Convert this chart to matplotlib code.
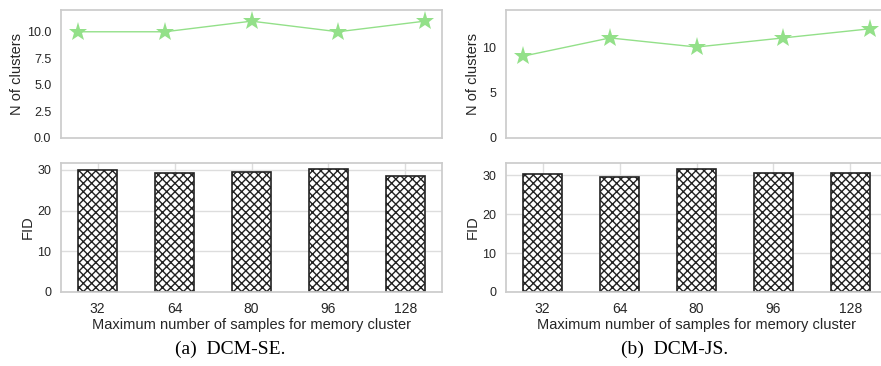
import numpy as np
import matplotlib
matplotlib.use('Agg')
import matplotlib.pyplot as plt

# memory cluster size sweep
sizes = ['32', '64', '80', '96', '128']

# DCM-SE
clusters_se = [10, 10, 11, 10, 11]
fid_se = [30.1, 29.2, 29.6, 30.2, 28.6]

# DCM-JS
clusters_js = [9, 11, 10, 11, 12]
fid_js = [30.3, 29.6, 31.6, 30.7, 30.7]

plt.rcParams['font.family'] = ['Liberation Sans', 'DejaVu Sans']
plt.rcParams['hatch.linewidth'] = 1.0

GREEN = '#93e089'
SPINE = '#cccccc'
TEXT = '#262626'

fig = plt.figure(figsize=(8.81, 3.66), dpi=100)
W, H = 881.0, 366.0


def box(x0, x1, ytop, ybot):
    return [x0 / W, 1 - ybot / H, (x1 - x0) / W, (ybot - ytop) / H]


def style(ax):
    for s in ax.spines.values():
        s.set_color(SPINE)
        s.set_linewidth(1.25)
    ax.tick_params(length=0, colors=TEXT)
    ax.tick_params(axis='y', labelsize=9, pad=7)
    ax.tick_params(axis='x', labelsize=10, pad=7.5)


def panel(x0, clusters, fid, yticks, ytop, fmt, caption, cap_x):
    x1 = x0 + 381
    top = fig.add_axes(box(x0, x1, 10, 138))
    bot = fig.add_axes(box(x0, x1, 163, 292))

    pos = np.arange(len(sizes))

    top.plot(pos, clusters, color=GREEN, lw=1, marker='*', ms=14,
             markeredgewidth=0, markerfacecolor=GREEN)
    top.set_ylim(0, ytop)
    top.set_yticks(yticks)
    top.set_yticklabels([fmt % v for v in yticks])
    top.set_xticks([])
    top.set_ylabel('N of clusters', fontsize=10.5, color=TEXT, labelpad=2)
    style(top)

    bot.set_axisbelow(True)
    bot.grid(True, color='#dddddd', lw=1)
    bot.bar(pos, fid, width=0.5, color='white', edgecolor='#222222',
            linewidth=1.2, hatch='xxxx')
    bot.set_xticks(pos)
    bot.set_xticklabels(sizes)
    bot.set_yticks([0, 10, 20, 30])
    bot.set_ylabel('FID', fontsize=10.5, color=TEXT, labelpad=2)
    bot.set_xlabel('Maximum number of samples for memory cluster',
                   fontsize=10.5, color=TEXT, labelpad=1)
    style(bot)

    fig.text(cap_x / W, 1 - 349 / H, caption, ha='center', va='center',
             fontsize=14, family=['Liberation Serif', 'DejaVu Serif'])


panel(61, clusters_se, fid_se, [0, 2.5, 5, 7.5, 10], 12.05, '%.1f',
      '(a)  DCM-SE.', 230)
panel(506, clusters_js, fid_js, [0, 5, 10], 14.07, '%d',
      '(b)  DCM-JS.', 675)

fig.savefig('out.png', dpi=100)
